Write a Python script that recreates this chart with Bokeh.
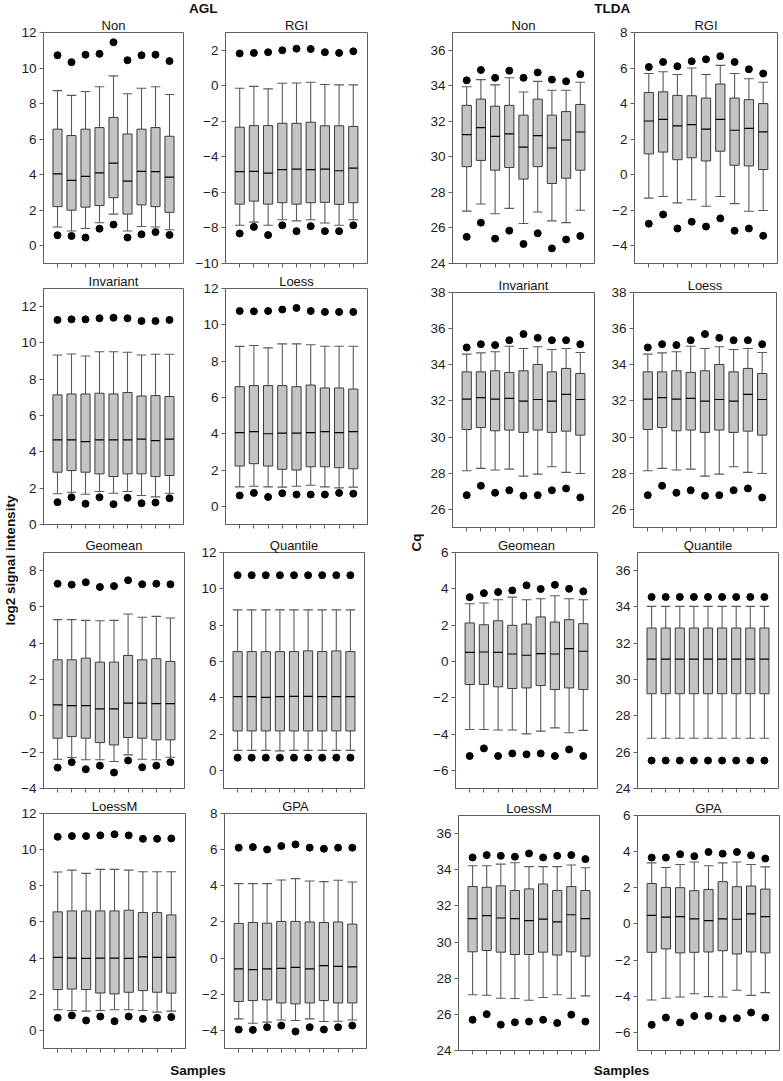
import math
from bokeh.plotting import figure
from bokeh.layouts import row, column
from bokeh.models import Range1d, FixedTicker, Label, ColumnDataSource
from bokeh.transform import dodge
from bokeh.embed import file_html
from bokeh.resources import INLINE

FONT = "Liberation Sans"
SAMPLES = [1, 2, 3, 4, 5, 6, 7, 8, 9]

# ---------------- AGL ----------------
AGL_NON_HI = [10.72, 10.33, 10.75, 10.80, 11.45, 10.44, 10.72, 10.75, 10.39]
AGL_NON_WH = [8.73, 8.46, 8.68, 8.95, 9.56, 8.55, 8.86, 8.95, 8.51]
AGL_NON_Q3 = [6.56, 6.20, 6.56, 6.65, 7.22, 6.29, 6.56, 6.65, 6.16]
AGL_NON_MED = [4.04, 3.68, 3.90, 4.10, 4.65, 3.64, 4.19, 4.17, 3.86]
AGL_NON_Q1 = [2.20, 2.00, 2.17, 2.26, 2.70, 1.78, 2.30, 2.20, 1.88]
AGL_NON_WL = [1.05, 0.83, 0.97, 1.29, 1.78, 0.83, 1.08, 1.05, 0.90]
AGL_NON_LO = [0.59, 0.55, 0.46, 0.96, 1.19, 0.46, 0.64, 0.77, 0.61]

AGL_RGI_HI = [1.82, 1.85, 1.89, 2.00, 2.09, 2.07, 1.89, 1.85, 1.94]
AGL_RGI_WH = [-0.14, -0.03, -0.17, 0.14, 0.16, 0.20, 0.07, 0.05, 0.05]
AGL_RGI_Q3 = [-2.33, -2.24, -2.24, -2.11, -2.11, -2.05, -2.25, -2.25, -2.29]
AGL_RGI_MED = [-4.83, -4.81, -4.91, -4.72, -4.69, -4.72, -4.69, -4.78, -4.63]
AGL_RGI_Q1 = [-6.66, -6.49, -6.66, -6.58, -6.66, -6.58, -6.56, -6.67, -6.58]
AGL_RGI_WL = [-7.85, -7.67, -7.85, -7.54, -7.60, -7.54, -7.72, -7.85, -7.54]
AGL_RGI_LO = [-8.31, -7.94, -8.40, -7.85, -8.18, -7.90, -8.18, -8.18, -7.85]

AGL_INV_HI = [11.27, 11.30, 11.30, 11.36, 11.39, 11.36, 11.21, 11.21, 11.27]
AGL_INV_WH = [9.34, 9.39, 9.28, 9.52, 9.52, 9.49, 9.34, 9.38, 9.38]
AGL_INV_Q3 = [7.14, 7.19, 7.19, 7.23, 7.19, 7.27, 7.08, 7.10, 7.05]
AGL_INV_MED = [4.66, 4.66, 4.57, 4.66, 4.66, 4.66, 4.70, 4.62, 4.70]
AGL_INV_Q1 = [2.88, 2.97, 2.88, 2.79, 2.64, 2.79, 2.79, 2.64, 2.70]
AGL_INV_WL = [1.69, 1.78, 1.67, 1.82, 1.72, 1.82, 1.60, 1.52, 1.72]
AGL_INV_LO = [1.23, 1.50, 1.14, 1.50, 1.12, 1.47, 1.17, 1.21, 1.45]

AGL_LOESS_HI = [10.76, 10.74, 10.76, 10.84, 10.93, 10.76, 10.71, 10.71, 10.71]
AGL_LOESS_WH = [8.81, 8.86, 8.73, 8.95, 8.95, 8.90, 8.82, 8.82, 8.82]
AGL_LOESS_Q3 = [6.59, 6.65, 6.65, 6.65, 6.59, 6.68, 6.52, 6.52, 6.46]
AGL_LOESS_MED = [4.06, 4.12, 4.00, 4.03, 4.03, 4.06, 4.12, 4.06, 4.12]
AGL_LOESS_Q1 = [2.22, 2.35, 2.22, 2.04, 2.00, 2.18, 2.18, 2.13, 2.07]
AGL_LOESS_WL = [1.07, 1.11, 1.07, 1.06, 1.11, 1.16, 1.07, 1.02, 1.06]
AGL_LOESS_LO = [0.60, 0.74, 0.52, 0.72, 0.65, 0.65, 0.65, 0.74, 0.70]

AGL_GEO_HI = [7.28, 7.23, 7.36, 7.10, 7.15, 7.47, 7.25, 7.28, 7.25]
AGL_GEO_WH = [5.30, 5.30, 5.26, 5.24, 5.26, 5.61, 5.43, 5.48, 5.39]
AGL_GEO_Q3 = [3.09, 3.09, 3.18, 2.96, 2.96, 3.33, 3.09, 3.15, 3.00]
AGL_GEO_MED = [0.61, 0.56, 0.56, 0.39, 0.39, 0.70, 0.70, 0.67, 0.67]
AGL_GEO_Q1 = [-1.23, -1.14, -1.23, -1.47, -1.60, -1.19, -1.23, -1.32, -1.32]
AGL_GEO_WL = [-2.39, -2.29, -2.42, -2.42, -2.51, -2.15, -2.39, -2.42, -2.28]
AGL_GEO_LO = [-2.85, -2.55, -2.94, -2.74, -3.12, -2.46, -2.83, -2.74, -2.55]

AGL_QUANT_HI = [10.75, 10.75, 10.75, 10.75, 10.75, 10.75, 10.75, 10.75, 10.75]
AGL_QUANT_WH = [8.84, 8.84, 8.84, 8.84, 8.84, 8.84, 8.84, 8.84, 8.84]
AGL_QUANT_Q3 = [6.54, 6.54, 6.54, 6.54, 6.54, 6.58, 6.54, 6.58, 6.54]
AGL_QUANT_MED = [4.06, 4.06, 4.02, 4.06, 4.07, 4.07, 4.06, 4.06, 4.06]
AGL_QUANT_Q1 = [2.17, 2.17, 2.17, 2.17, 2.17, 2.17, 2.17, 2.17, 2.17]
AGL_QUANT_WL = [1.10, 1.10, 1.10, 1.07, 1.10, 1.10, 1.10, 1.10, 1.10]
AGL_QUANT_LO = [0.70, 0.70, 0.70, 0.70, 0.70, 0.70, 0.70, 0.70, 0.70]

AGL_LOESSM_HI = [10.71, 10.75, 10.75, 10.79, 10.85, 10.79, 10.60, 10.60, 10.62]
AGL_LOESSM_WH = [8.76, 8.87, 8.69, 8.91, 8.91, 8.87, 8.78, 8.78, 8.78]
AGL_LOESSM_Q3 = [6.56, 6.61, 6.61, 6.61, 6.61, 6.65, 6.52, 6.52, 6.39]
AGL_LOESSM_MED = [4.04, 4.00, 3.99, 4.00, 4.00, 3.99, 4.07, 4.04, 4.04]
AGL_LOESSM_Q1 = [2.26, 2.29, 2.26, 2.07, 2.02, 2.11, 2.20, 2.11, 2.06]
AGL_LOESSM_WL = [1.14, 1.10, 1.07, 1.10, 1.14, 1.14, 1.10, 1.01, 1.07]
AGL_LOESSM_LO = [0.70, 0.83, 0.55, 0.77, 0.51, 0.77, 0.64, 0.70, 0.74]

AGL_GPA_HI = [6.11, 6.14, 6.01, 6.20, 6.29, 6.11, 6.05, 6.11, 6.11]
AGL_GPA_WH = [4.12, 4.12, 4.12, 4.32, 4.40, 4.27, 4.23, 4.31, 4.21]
AGL_GPA_Q3 = [1.92, 1.97, 1.93, 2.03, 2.03, 2.00, 1.97, 2.00, 1.88]
AGL_GPA_MED = [-0.60, -0.64, -0.60, -0.57, -0.51, -0.60, -0.42, -0.46, -0.48]
AGL_GPA_Q1 = [-2.40, -2.35, -2.31, -2.48, -2.53, -2.48, -2.35, -2.48, -2.48]
AGL_GPA_WL = [-3.36, -3.60, -3.54, -3.42, -3.45, -3.36, -3.51, -3.49, -3.42]
AGL_GPA_LO = [-3.95, -3.97, -3.82, -3.73, -4.06, -3.82, -3.95, -3.82, -3.73]

# ---------------- TLDA ----------------
TLDA_NON_HI = [34.31, 34.89, 34.45, 34.85, 34.45, 34.75, 34.35, 34.25, 34.65]
TLDA_NON_WH = [33.95, 34.35, 34.05, 34.45, 33.65, 34.25, 33.75, 33.75, 34.20]
TLDA_NON_Q3 = [32.90, 33.25, 32.85, 32.90, 32.35, 33.25, 32.35, 32.55, 32.95]
TLDA_NON_MED = [31.25, 31.65, 31.15, 31.30, 30.55, 31.20, 30.50, 30.95, 31.40]
TLDA_NON_Q1 = [29.45, 29.80, 29.25, 29.40, 28.75, 29.45, 28.50, 28.80, 29.25]
TLDA_NON_WL = [26.95, 27.35, 26.80, 27.10, 26.25, 26.90, 26.40, 26.30, 27.00]
TLDA_NON_LO = [25.50, 26.30, 25.40, 25.85, 25.10, 25.70, 24.85, 25.35, 25.55]

TLDA_RGI_HI = [6.06, 6.34, 6.10, 6.38, 6.49, 6.67, 6.34, 5.93, 5.69]
TLDA_RGI_WH = [5.69, 5.79, 5.64, 6.00, 5.64, 6.15, 5.69, 5.40, 5.20]
TLDA_RGI_Q3 = [4.62, 4.66, 4.46, 4.44, 4.31, 5.10, 4.31, 4.22, 4.00]
TLDA_RGI_MED = [3.02, 3.11, 2.74, 2.82, 2.56, 3.11, 2.50, 2.61, 2.41]
TLDA_RGI_Q1 = [1.17, 1.27, 0.84, 0.95, 0.77, 1.32, 0.53, 0.49, 0.29]
TLDA_RGI_WL = [-1.32, -1.23, -1.59, -1.41, -1.78, -1.23, -1.63, -2.06, -2.02]
TLDA_RGI_LO = [-2.76, -2.24, -3.03, -2.65, -2.92, -2.46, -3.16, -3.03, -3.44]

TLDA_INV_HI = [34.96, 35.14, 35.09, 35.36, 35.70, 35.49, 35.36, 35.36, 35.14]
TLDA_INV_WH = [34.59, 34.66, 34.72, 35.03, 34.90, 35.00, 34.85, 34.90, 34.68]
TLDA_INV_Q3 = [33.61, 33.61, 33.67, 33.58, 33.67, 34.02, 33.61, 33.80, 33.52]
TLDA_INV_MED = [32.10, 32.19, 32.10, 32.14, 31.99, 32.08, 31.99, 32.36, 32.08]
TLDA_INV_Q1 = [30.42, 30.53, 30.35, 30.39, 30.26, 30.39, 30.26, 30.33, 30.11]
TLDA_INV_WL = [28.14, 28.27, 28.18, 28.23, 27.84, 27.95, 28.36, 28.05, 27.99]
TLDA_INV_LO = [26.79, 27.31, 26.92, 27.06, 26.76, 26.79, 27.06, 27.16, 26.66]

TLDA_LOESS_HI = [34.96, 35.14, 35.09, 35.36, 35.70, 35.49, 35.36, 35.36, 35.14]
TLDA_LOESS_WH = [34.59, 34.66, 34.72, 35.03, 34.90, 35.00, 34.85, 34.90, 34.68]
TLDA_LOESS_Q3 = [33.61, 33.61, 33.67, 33.58, 33.67, 34.02, 33.61, 33.80, 33.52]
TLDA_LOESS_MED = [32.10, 32.19, 32.10, 32.14, 31.99, 32.08, 31.99, 32.36, 32.08]
TLDA_LOESS_Q1 = [30.42, 30.53, 30.35, 30.39, 30.26, 30.39, 30.26, 30.33, 30.11]
TLDA_LOESS_WL = [28.14, 28.27, 28.18, 28.23, 27.84, 27.95, 28.36, 28.05, 27.99]
TLDA_LOESS_LO = [26.79, 27.31, 26.92, 27.06, 26.76, 26.79, 27.06, 27.16, 26.66]

TLDA_GEO_HI = [3.54, 3.76, 3.82, 3.91, 4.19, 3.99, 4.22, 4.00, 3.86]
TLDA_GEO_WH = [3.18, 3.22, 3.40, 3.54, 3.40, 3.45, 3.62, 3.45, 3.40]
TLDA_GEO_Q3 = [2.12, 2.02, 2.24, 1.99, 2.06, 2.45, 2.17, 2.30, 2.08]
TLDA_GEO_MED = [0.50, 0.52, 0.50, 0.41, 0.34, 0.43, 0.41, 0.70, 0.56]
TLDA_GEO_Q1 = [-1.27, -1.27, -1.40, -1.49, -1.46, -1.33, -1.55, -1.46, -1.55]
TLDA_GEO_WL = [-3.75, -3.75, -3.78, -3.78, -3.99, -3.84, -3.66, -3.93, -3.80]
TLDA_GEO_LO = [-5.21, -4.79, -5.21, -5.07, -5.12, -5.07, -5.21, -4.85, -5.21]

TLDA_QUANT_HI = [34.55, 34.55, 34.55, 34.55, 34.55, 34.55, 34.55, 34.55, 34.55]
TLDA_QUANT_WH = [34.03, 34.03, 34.03, 34.03, 34.03, 34.03, 34.03, 34.03, 34.03]
TLDA_QUANT_Q3 = [32.84, 32.84, 32.84, 32.84, 32.84, 32.84, 32.84, 32.84, 32.84]
TLDA_QUANT_MED = [31.13, 31.13, 31.13, 31.13, 31.13, 31.13, 31.13, 31.13, 31.13]
TLDA_QUANT_Q1 = [29.22, 29.22, 29.22, 29.22, 29.22, 29.22, 29.22, 29.22, 29.22]
TLDA_QUANT_WL = [26.77, 26.77, 26.77, 26.77, 26.77, 26.77, 26.77, 26.77, 26.77]
TLDA_QUANT_LO = [25.54, 25.54, 25.54, 25.54, 25.54, 25.54, 25.54, 25.54, 25.54]

TLDA_LOESSM_HI = [34.68, 34.81, 34.77, 34.72, 34.90, 34.68, 34.77, 34.81, 34.59]
TLDA_LOESSM_WH = [34.22, 34.22, 34.31, 34.39, 34.17, 34.17, 34.17, 34.26, 34.11]
TLDA_LOESSM_Q3 = [33.07, 33.03, 33.11, 32.85, 32.94, 33.21, 32.85, 33.07, 32.85]
TLDA_LOESSM_MED = [31.29, 31.46, 31.33, 31.29, 31.18, 31.27, 31.11, 31.51, 31.29]
TLDA_LOESSM_Q1 = [29.46, 29.53, 29.44, 29.31, 29.31, 29.44, 29.28, 29.46, 29.22]
TLDA_LOESSM_WL = [27.08, 27.06, 26.89, 26.88, 26.78, 26.93, 27.08, 26.89, 27.02]
TLDA_LOESSM_LO = [25.70, 26.01, 25.43, 25.56, 25.60, 25.70, 25.52, 25.98, 25.60]

TLDA_GPA_HI = [3.67, 3.67, 3.86, 3.75, 3.98, 3.89, 3.98, 3.80, 3.62]
TLDA_GPA_WH = [3.38, 3.12, 3.29, 3.43, 3.22, 3.38, 3.43, 3.29, 3.16]
TLDA_GPA_Q3 = [2.24, 2.02, 2.01, 1.84, 1.91, 2.34, 2.06, 2.10, 1.93]
TLDA_GPA_MED = [0.47, 0.38, 0.41, 0.28, 0.19, 0.28, 0.26, 0.56, 0.41]
TLDA_GPA_Q1 = [-1.57, -1.38, -1.60, -1.57, -1.55, -1.48, -1.66, -1.55, -1.60]
TLDA_GPA_WL = [-4.21, -4.11, -4.04, -3.86, -4.02, -4.04, -3.67, -3.95, -3.80]
TLDA_GPA_LO = [-5.58, -5.18, -5.45, -5.09, -5.09, -5.23, -5.21, -4.90, -5.18]

# ---------------- styling ----------------
BOX_FILL = "#c4c4c4"
BOX_LINE = "#3c3c3c"
WHISK = "#5a5a5a"
FRAME = "#5f5f5f"
TICKLBL = "#1e1e1e"
TXT = "#111111"
BOXW = 0.65
CAPW = 0.34

W = 782
HEAD_H = 15
BODY_H = 1043
FOOT_H = 23


def panel(name, stats, yr, ticks, fw, fh, left, right, top, bottom):
    hi, wh, q3, med, q1, wl, lo = stats
    p = figure(width=left + fw + right, height=top + fh + bottom,
               x_range=Range1d(0, 10), y_range=Range1d(yr[0], yr[1]),
               output_backend="svg", toolbar_location=None,
               min_border_left=left, min_border_right=right,
               min_border_top=top, min_border_bottom=bottom)
    p.grid.visible = False
    p.outline_line_color = FRAME
    p.outline_line_width = 1
    src = ColumnDataSource(dict(x=SAMPLES, hi=hi, wh=wh, q3=q3, med=med,
                                q1=q1, wl=wl, lo=lo))
    p.segment(x0="x", y0="q3", x1="x", y1="wh", source=src, line_color=WHISK, line_width=1.1)
    p.segment(x0="x", y0="q1", x1="x", y1="wl", source=src, line_color=WHISK, line_width=1.1)
    p.segment(x0=dodge("x", -CAPW), x1=dodge("x", CAPW), y0="wh", y1="wh", source=src,
              line_color=WHISK, line_width=1.1)
    p.segment(x0=dodge("x", -CAPW), x1=dodge("x", CAPW), y0="wl", y1="wl", source=src,
              line_color=WHISK, line_width=1.1)
    p.vbar(x="x", width=BOXW, bottom="q1", top="q3", source=src,
           fill_color=BOX_FILL, line_color=BOX_LINE, line_width=1)
    p.segment(x0=dodge("x", -BOXW / 2), x1=dodge("x", BOXW / 2), y0="med", y1="med",
              source=src, line_color="black", line_width=1.2)
    p.scatter(x="x", y="hi", source=src, size=7, color="black")
    p.scatter(x="x", y="lo", source=src, size=7, color="black")

    ya = p.yaxis[0]
    ya.ticker = FixedTicker(ticks=ticks)
    ya.major_tick_out = 4
    ya.major_tick_in = 0
    ya.minor_tick_line_color = None
    ya.major_tick_line_color = FRAME
    ya.axis_line_color = FRAME
    ya.major_label_standoff = 3
    ya.major_label_text_font = FONT
    ya.major_label_text_font_size = "13.5px"
    ya.major_label_text_color = TICKLBL

    xa = p.xaxis[0]
    xa.ticker = FixedTicker(ticks=SAMPLES)
    xa.major_label_overrides = {s: "" for s in SAMPLES}
    xa.major_label_text_font_size = "1px"
    xa.major_label_standoff = 0
    xa.major_tick_out = 4
    xa.major_tick_in = 0
    xa.minor_tick_line_color = None
    xa.major_tick_line_color = FRAME
    xa.axis_line_color = FRAME

    p.title.text = name
    p.title.align = "center"
    p.title.text_font = FONT
    p.title.text_font_size = "13px"
    p.title.text_font_style = "normal"
    p.title.text_color = TXT
    p.title.standoff = 0
    return p


def blank(width, height, xr, yr):
    p = figure(width=width, height=height, x_range=Range1d(*xr), y_range=Range1d(*yr),
               output_backend="svg", toolbar_location=None,
               x_axis_type=None, y_axis_type=None,
               min_border_left=0, min_border_right=0, min_border_top=0, min_border_bottom=0)
    p.outline_line_color = None
    p.grid.visible = False
    return p


def S(prefix):
    g = globals()
    return [g[prefix + k] for k in ("_HI", "_WH", "_Q3", "_MED", "_Q1", "_WL", "_LO")]


T12 = list(range(0, 13, 2))

# ---- AGL column ----
agl_rows = [
    row(panel("Non", S("AGL_NON"), (-1, 12), T12, 141, 233, 24, 4, 15, 8),
        panel("RGI", S("AGL_RGI"), (-10, 3), list(range(-10, 3, 2)), 142, 233, 38, 38, 15, 8)),
    row(panel("Invariant", S("AGL_INV"), (0, 13), T12, 141, 236, 24, 4, 17, 8),
        panel("Loess", S("AGL_LOESS"), (-1, 12), T12, 142, 236, 38, 38, 17, 8)),
    row(panel("Geomean", S("AGL_GEO"), (-4, 9), list(range(-4, 9, 2)), 141, 236, 25, 3, 20, 8),
        panel("Quantile", S("AGL_QUANT"), (-1, 12), T12, 141, 236, 36, 41, 20, 8)),
    row(panel("LoessM", S("AGL_LOESSM"), (-1, 12), T12, 142, 236, 25, 2, 16, 10),
        panel("GPA", S("AGL_GPA"), (-5, 8), list(range(-4, 9, 2)), 142, 236, 37, 39, 16, 10)),
]

# ---- TLDA column ----
tlda_rows = [
    row(panel("Non", S("TLDA_NON"), (24, 37), list(range(24, 37, 2)), 142, 233, 28, 2, 15, 8),
        panel("RGI", S("TLDA_RGI"), (-5, 8), list(range(-4, 9, 2)), 143, 233, 38, 5, 15, 8)),
    row(panel("Invariant", S("TLDA_INV"), (25, 38), list(range(26, 39, 2)), 142, 235, 28, 4, 21, 8),
        panel("Loess", S("TLDA_LOESS"), (25, 38), list(range(26, 39, 2)), 143, 235, 35, 6, 21, 8)),
    row(panel("Geomean", S("TLDA_GEO"), (-7, 6), list(range(-6, 7, 2)), 142, 236, 31, 3, 17, 8),
        panel("Quantile", S("TLDA_QUANT"), (24, 37), list(range(24, 37, 2)), 141, 236, 37, 4, 17, 8)),
    row(panel("LoessM", S("TLDA_LOESSM"), (24, 37), list(range(24, 37, 2)), 141, 235, 34, 3, 19, 8),
        panel("GPA", S("TLDA_GPA"), (-7, 6), list(range(-6, 7, 2)), 142, 235, 35, 3, 19, 8)),
]

# ---- header (group headings) ----
head = blank(W, HEAD_H, (0, W), (0, HEAD_H))
for txt, x in (("AGL", 202.7), ("TLDA", 611.7)):
    head.add_layout(Label(x=x, y=7.5, text=txt, text_align="center", text_baseline="middle",
                          text_font=FONT, text_font_size="13.5px", text_font_style="bold",
                          text_color=TXT))

# ---- side labels ----
leftlab = blank(18, BODY_H, (0, 18), (0, BODY_H))
leftlab.add_layout(Label(x=9.5, y=498, text="log2 signal intensity", angle=math.pi / 2,
                         text_align="center", text_baseline="middle",
                         text_font=FONT, text_font_size="13.5px", text_font_style="bold",
                         text_color=TXT))
midlab = blank(19, BODY_H, (0, 19), (0, BODY_H))
midlab.add_layout(Label(x=11, y=516, text="Cq", angle=math.pi / 2,
                        text_align="center", text_baseline="middle",
                        text_font=FONT, text_font_size="13.5px", text_font_style="bold",
                        text_color=TXT))

# ---- footer ----
foot = blank(W, FOOT_H, (0, W), (0, FOOT_H))
for x in (197.5, 621):
    foot.add_layout(Label(x=x, y=11, text="Samples", text_align="center", text_baseline="middle",
                          text_font=FONT, text_font_size="13.5px", text_font_style="bold",
                          text_color=TXT))

body = row(leftlab, column(*agl_rows), midlab, column(*tlda_rows))
layout = column(head, body, foot)

open("out.html", "w").write(file_html(layout, INLINE))
